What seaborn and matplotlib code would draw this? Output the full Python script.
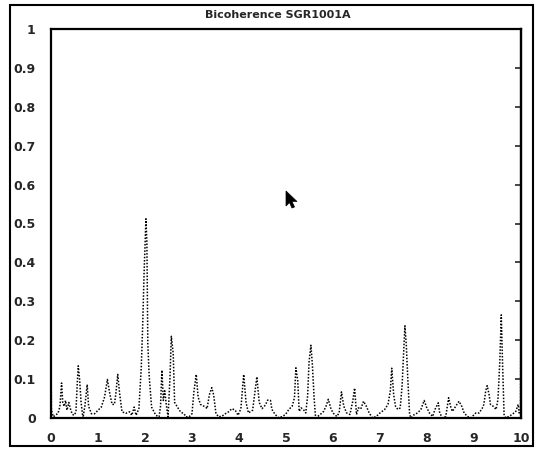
import matplotlib
matplotlib.use("Agg")
import matplotlib.pyplot as plt
from matplotlib.patches import Rectangle, Polygon
import seaborn as sns
import pandas as pd

# Bicoherence estimate against frequency
freq = [0.0, 0.01, 0.05, 0.1, 0.15, 0.19, 0.225, 0.25, 0.28, 0.31, 0.34, 0.38, 0.41,
        0.45, 0.49, 0.53, 0.555, 0.58, 0.61, 0.64, 0.68, 0.72, 0.77, 0.8, 0.86, 0.93,
        1.0, 1.07, 1.14, 1.2, 1.25, 1.3, 1.35, 1.38, 1.42, 1.46, 1.51, 1.59, 1.67,
        1.72, 1.77, 1.81, 1.87, 1.92, 1.95, 1.98, 2.02, 2.04, 2.06, 2.09, 2.14, 2.23,
        2.3, 2.33, 2.36, 2.39, 2.42, 2.45, 2.49, 2.53, 2.56, 2.6, 2.63, 2.69, 2.76,
        2.83, 2.87, 2.94, 3.0, 3.04, 3.09, 3.13, 3.18, 3.29, 3.32, 3.37, 3.42, 3.46,
        3.51, 3.57, 3.64, 3.71, 3.78, 3.85, 3.92, 3.98, 4.04, 4.1, 4.15, 4.2, 4.29,
        4.33, 4.38, 4.43, 4.49, 4.56, 4.61, 4.67, 4.7, 4.77, 4.85, 4.92, 4.99, 5.06,
        5.13, 5.18, 5.21, 5.25, 5.28, 5.32, 5.37, 5.42, 5.46, 5.49, 5.53, 5.56, 5.6,
        5.63, 5.73, 5.8, 5.85, 5.9, 5.95, 6.0, 6.08, 6.13, 6.18, 6.23, 6.29, 6.36,
        6.42, 6.46, 6.5, 6.54, 6.59, 6.65, 6.71, 6.77, 6.84, 6.92, 7.0, 7.1, 7.17,
        7.22, 7.25, 7.29, 7.33, 7.38, 7.43, 7.47, 7.51, 7.53, 7.56, 7.59, 7.63, 7.66,
        7.73, 7.8, 7.87, 7.94, 7.99, 8.05, 8.12, 8.17, 8.24, 8.27, 8.33, 8.4, 8.46,
        8.51, 8.54, 8.61, 8.68, 8.74, 8.79, 8.86, 8.93, 9.04, 9.11, 9.18, 9.21, 9.25,
        9.28, 9.32, 9.35, 9.41, 9.47, 9.51, 9.55, 9.58, 9.61, 9.64, 9.68, 9.74, 9.81,
        9.89, 9.94, 9.96, 9.99, 10.0]
bicoherence = [0.15, 0.02, 0.003, 0.008, 0.012, 0.03, 0.09, 0.04, 0.03, 0.045, 0.02, 0.04,
               0.025, 0.01, 0.007, 0.015, 0.08, 0.134, 0.097, 0.04, 0.0, 0.03, 0.086,
               0.03, 0.011, 0.011, 0.02, 0.028, 0.054, 0.099, 0.063, 0.035, 0.035, 0.063,
               0.112, 0.063, 0.016, 0.012, 0.016, 0.007, 0.028, 0.007, 0.024, 0.128,
               0.235, 0.37, 0.512, 0.45, 0.19, 0.106, 0.028, 0.007, 0.003, 0.03, 0.123,
               0.045, 0.07, 0.037, 0.003, 0.1, 0.21, 0.166, 0.04, 0.028, 0.015, 0.011,
               0.003, 0.003, 0.011, 0.067, 0.112, 0.054, 0.035, 0.028, 0.024, 0.06,
               0.078, 0.06, 0.011, 0.003, 0.005, 0.011, 0.016, 0.024, 0.02, 0.007,
               0.024, 0.112, 0.04, 0.013, 0.02, 0.058, 0.106, 0.04, 0.024, 0.033, 0.046,
               0.045, 0.022, 0.009, 0.0, 0.004, 0.009, 0.022, 0.03, 0.052, 0.129, 0.096,
               0.017, 0.026, 0.022, 0.013, 0.057, 0.143, 0.187, 0.139, 0.048, 0.0,
               0.009, 0.017, 0.03, 0.048, 0.026, 0.013, 0.004, 0.013, 0.067, 0.03,
               0.013, 0.009, 0.043, 0.077, 0.009, 0.026, 0.023, 0.043, 0.03, 0.013, 0.0,
               0.004, 0.013, 0.022, 0.035, 0.07, 0.128, 0.061, 0.03, 0.022, 0.026,
               0.083, 0.187, 0.237, 0.187, 0.104, 0.009, 0.0, 0.009, 0.013, 0.022,
               0.045, 0.028, 0.013, 0.004, 0.022, 0.039, 0.013, 0.0, 0.004, 0.052,
               0.026, 0.017, 0.03, 0.043, 0.03, 0.013, 0.004, 0.0, 0.013, 0.013, 0.026,
               0.035, 0.07, 0.083, 0.061, 0.035, 0.03, 0.022, 0.048, 0.148, 0.265, 0.13,
               0.009, 0.0, 0.004, 0.009, 0.017, 0.035, 0.013, 0.02, 0.42]

y_ticks = [0, 0.1, 0.2, 0.3, 0.4, 0.5, 0.6, 0.7, 0.8, 0.9, 1]
y_tick_labels = ["0", "0.1", "0.2", "0.3", "0.4", "0.5", "0.6", "0.7", "0.8", "0.9", "1"]
x_ticks = [0, 1, 2, 3, 4, 5, 6, 7, 8, 9, 10]
title = "Bicoherence SGR1001A"

df = pd.DataFrame({"freq": freq, "bicoherence": bicoherence})

sns.set_style("white")
plt.rcParams["font.family"] = ["DejaVu Sans"]

W, H = 536, 449
fig = plt.figure(figsize=(W / 100, H / 100), dpi=100)
fig.patch.set_facecolor("white")
ax = fig.add_axes([51 / W, (H - 418) / H, (521 - 51) / W, (418 - 29) / H])

sns.lineplot(data=df, x="freq", y="bicoherence", ax=ax, sort=False, estimator=None,
             color="black", linewidth=1.1)
ax.lines[0].set_dashes([1.0, 1.1])

ax.set_xlim(0, 10)
ax.set_ylim(0, 1)
ax.set_xlabel("")
ax.set_ylabel("")

ax.set_yticks(y_ticks)
ax.set_yticklabels(y_tick_labels, fontsize=9, fontweight="bold")
ax.set_xticks(x_ticks)
ax.set_xticklabels([str(t) for t in x_ticks], fontsize=9, fontweight="bold")
ax.tick_params(axis="y", direction="out", length=8, width=1.5, pad=3, color="black")
ax.tick_params(axis="x", direction="out", length=5, width=1.5, pad=5, color="black")

for side in ["left", "bottom", "top", "right"]:
    ax.spines[side].set_visible(True)
    ax.spines[side].set_color("black")
    ax.spines[side].set_linewidth(1.6)

# inward ticks along the right edge
sec = ax.secondary_yaxis("right")
sec.set_yticks(y_ticks)
sec.tick_params(direction="in", length=4, width=1.2, labelright=False)
sec.spines["right"].set_linewidth(1.6)

# outer window frame
fig.patches.append(Rectangle((10 / W, 3 / H), (533 - 10) / W, (444 - 3) / H,
                             transform=fig.transFigure, fill=False,
                             edgecolor="black", linewidth=1.5))

fig.text(278 / W, 1 - 15 / H, title, ha="center", va="center",
         fontsize=8, fontweight="bold")

# pointer cursor
cursor = [(0, 0), (0, 15), (3.5, 11.5), (6, 17), (8.5, 16), (6, 10.5), (11, 10.5)]
fig.patches.append(Polygon([((286 + px) / W, 1 - (191 + py) / H) for px, py in cursor],
                           closed=True, transform=fig.transFigure,
                           facecolor="black", edgecolor="black", linewidth=0.5))

fig.savefig("out.png", dpi=100)
